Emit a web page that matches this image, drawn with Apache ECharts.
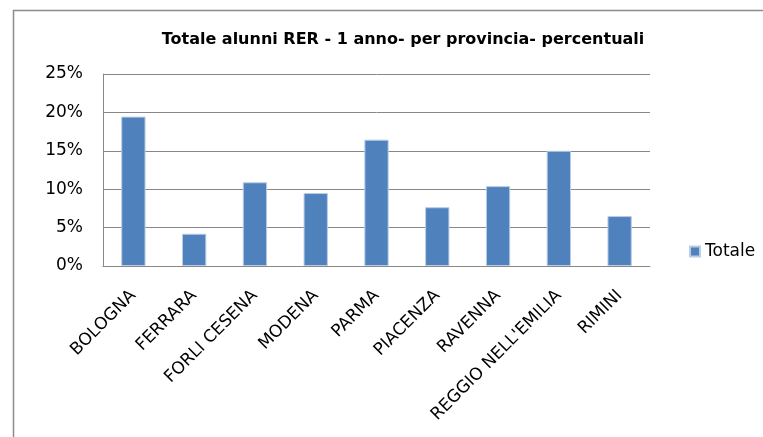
<!DOCTYPE html>
<html>
<head>
<meta charset="utf-8">
<script src="https://cdn.jsdelivr.net/npm/echarts@6/dist/echarts.min.js"></script>
<style>
  html, body { margin: 0; padding: 0; background: #fff; }
  #chart { width: 763px; height: 437px; }
</style>
</head>
<body>
<div id="chart"></div>
<script>
const province = ['BOLOGNA', 'FERRARA', 'FORLI CESENA', 'MODENA', 'PARMA', 'PIACENZA', 'RAVENNA', "REGGIO NELL'EMILIA", 'RIMINI'];
const totale = [19.45, 4.2, 10.9, 9.5, 16.45, 7.65, 10.4, 15.0, 6.5];

const chart = echarts.init(document.getElementById('chart'));
const font = '"DejaVu Sans", sans-serif';

chart.setOption({
  animation: false,
  textStyle: { fontFamily: font },
  title: {
    text: 'Totale alunni RER - 1 anno- per provincia- percentuali',
    left: 398, top: 27, textAlign: 'center',
    textStyle: { fontSize: 16, fontWeight: 'bold', color: '#000', fontFamily: font }
  },
  legend: {
    data: ['Totale'],
    left: 684, top: 238,
    icon: 'rect', itemWidth: 10, itemHeight: 10, itemGap: 6,
    textStyle: { fontSize: 17, color: '#000', fontFamily: font }
  },
  graphic: [{
    type: 'rect',
    shape: { x: 13.5, y: 10.5, width: 800, height: 500 },
    style: { fill: 'none', stroke: '#8c8c8c', lineWidth: 1.5 },
    silent: true
  }],
  grid: { left: 103, right: 113, top: 74, bottom: 171 },
  xAxis: {
    type: 'category',
    data: province,
    axisLine: { lineStyle: { color: '#888' } },
    axisTick: { show: false },
    axisLabel: { rotate: 45, interval: 0, fontSize: 17, color: '#000', margin: 27, fontFamily: font }
  },
  yAxis: {
    type: 'value',
    min: 0, max: 25, interval: 5,
    axisLine: { show: true, lineStyle: { color: '#888' } },
    axisTick: { show: false },
    splitLine: { lineStyle: { color: '#888' } },
    axisLabel: { formatter: '{value}%', fontSize: 17, color: '#000', margin: 20, fontFamily: font }
  },
  series: [{
    name: 'Totale',
    type: 'bar',
    data: totale,
    barWidth: '40%',
    itemStyle: { color: '#4F81BD', borderColor: '#B9CDE5', borderWidth: 1 }
  }]
});
</script>
</body>
</html>
